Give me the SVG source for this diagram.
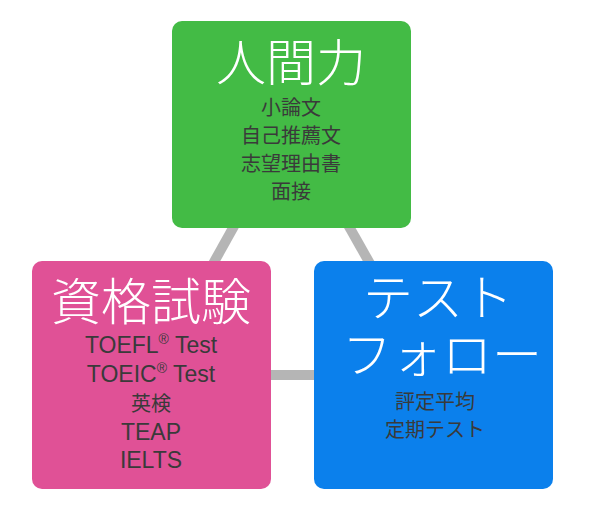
<svg xmlns="http://www.w3.org/2000/svg" width="600" height="518" viewBox="0 0 600 518">
<style>
.box{stroke:none}
.title{font-family:"Noto Sans CJK JP","Noto Sans",sans-serif;font-weight:200;font-size:50px;fill:#ffffff;text-anchor:middle}
.item{font-family:"Noto Sans CJK JP","Noto Sans",sans-serif;font-size:20px;fill:#3a3a3a;text-anchor:middle}
.lat{font-family:"Liberation Sans","Noto Sans CJK JP",sans-serif;font-size:23px;fill:#3a3a3a;text-anchor:middle}
.conn{stroke:#b5b5b5;stroke-width:10;fill:none}
</style>
<rect width="600" height="518" fill="#ffffff"/>
<g id="connectors">
<line class="conn" x1="291" y1="124" x2="151" y2="375"/>
<line class="conn" x1="291" y1="124" x2="433" y2="375"/>
<line class="conn" x1="151" y1="375" x2="433" y2="375"/>
</g>
<g id="node-ningenryoku">
<rect class="box" x="172" y="21" width="239" height="207" rx="10" fill="#43bb45"/>
<text class="title" x="291" y="81">人間力</text>
<text class="item" x="291" y="115">小論文</text>
<text class="item" x="291" y="143">自己推薦文</text>
<text class="item" x="291" y="171">志望理由書</text>
<text class="item" x="291" y="199">面接</text>
</g>
<g id="node-shikaku">
<rect class="box" x="32" y="261" width="239" height="228" rx="10" fill="#e05196"/>
<text class="title" x="151" y="320">資格試験</text>
<text class="lat" x="151" y="353">TOEFL<tspan font-size="14" dy="-9">®</tspan><tspan dy="9"> Test</tspan></text>
<text class="lat" x="151" y="382">TOEIC<tspan font-size="14" dy="-9">®</tspan><tspan dy="9"> Test</tspan></text>
<text class="item" x="151" y="411">英検</text>
<text class="lat" x="151" y="440">TEAP</text>
<text class="lat" x="151" y="468">IELTS</text>
</g>
<g id="node-testfollow">
<rect class="box" x="314" y="261" width="239" height="228" rx="10" fill="#0b80ec"/>
<text class="title" x="438" y="316">テスト</text>
<text class="title" x="442" y="373">フォロー</text>
<text class="item" x="435" y="409">評定平均</text>
<text class="item" x="435" y="437">定期テスト</text>
</g>
</svg>
